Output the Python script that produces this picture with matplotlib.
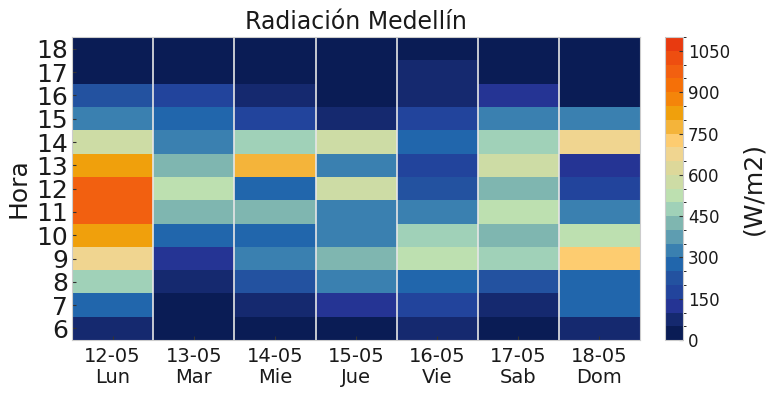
import numpy as np
import matplotlib
matplotlib.use("Agg")
from matplotlib import pyplot as plt
from matplotlib.colors import ListedColormap, BoundaryNorm

# datos (W/m2), horas 6..18
horas = list(range(6, 19))
fechas = ["12-05", "13-05", "14-05", "15-05", "16-05", "17-05", "18-05"]
dias = ["Lun", "Mar", "Mie", "Jue", "Vie", "Sab", "Dom"]

lun = [75, 275, 475, 675, 825, 975, 975, 825, 575, 325, 225, 0, 0]
mar = [10, 15, 75, 125, 275, 425, 525, 425, 325, 275, 175, 0, 0]
mie = [20, 75, 225, 325, 275, 425, 275, 775, 475, 175, 75, 0, 0]
jue = [20, 125, 325, 425, 325, 325, 575, 325, 575, 75, 30, 0, 0]
vie = [75, 175, 275, 525, 475, 325, 225, 175, 275, 175, 75, 60, 0]
sab = [20, 75, 225, 475, 425, 525, 425, 575, 475, 325, 125, 0, 0]
dom = [75, 275, 275, 725, 525, 325, 175, 125, 675, 325, 40, 0, 0]

niveles = list(range(0, 1101, 50))
colores = ['#0a1c55', '#15296f', '#253494', '#22449c', '#2352a0', '#2166ac',
           '#3a80b0', '#5e9db1', '#7fb6b0', '#a0d1b8', '#bde0b0', '#cddca5',
           '#ddd89a', '#f0d590', '#fdcc70', '#f4b43a', '#f0a00c', '#f4850a',
           '#f57008', '#f26010', '#ee4e10', '#e83a10']

cmap = ListedColormap(colores)
norm = BoundaryNorm(niveles, cmap.N)

datos = np.array([lun, mar, mie, jue, vie, sab, dom]).T

fig = plt.figure(figsize=(7.67, 3.95), dpi=100)
ax = fig.add_axes([0.094, 0.139, 0.7405, 0.767])
cax = fig.add_axes([0.867, 0.139, 0.0235, 0.767])

x_edges = np.arange(len(dias) + 1)
y_edges = np.arange(horas[0] - 0.5, horas[-1] + 1.0)
mesh = ax.pcolormesh(x_edges, y_edges, datos, cmap=cmap, norm=norm)

for xb in range(1, len(dias)):
    ax.axvline(xb, color='#e6e6e6', lw=1.2)

ax.set_xlim(0, len(dias))
ax.set_ylim(y_edges[0], y_edges[-1])
ax.set_xticks(np.arange(len(dias)) + 0.5)
ax.set_xticklabels([f + "\n" + d for f, d in zip(fechas, dias)], fontsize=14,
                   color='#1a1a1a', linespacing=1.1)
ax.set_yticks(horas)
ax.set_yticklabels([str(h) for h in horas], fontsize=18, color='#1a1a1a',
                   family=['Liberation Sans Narrow', 'DejaVu Sans'])
ax.tick_params(axis='x', direction='in', length=3, color='#333333', pad=5)
ax.tick_params(axis='y', direction='in', length=3, color='#333333', pad=3)
ax.set_ylabel("Hora", fontsize=18, color='#1a1a1a', labelpad=4)
ax.set_title("Radiación Medellín", fontsize=17, color='#1a1a1a', pad=6)
for s in ax.spines.values():
    s.set_color('#cccccc')

cb = fig.colorbar(mesh, cax=cax, ticks=list(range(0, 1101, 150)))
cb.outline.set_edgecolor('#cccccc')
cax.tick_params(direction='in', length=3, color='#333333', labelsize=12,
                labelcolor='#1a1a1a')
cb.set_label("(W/m2)", fontsize=18, color='#1a1a1a', labelpad=8)

fig.savefig("out.png", dpi=100)
